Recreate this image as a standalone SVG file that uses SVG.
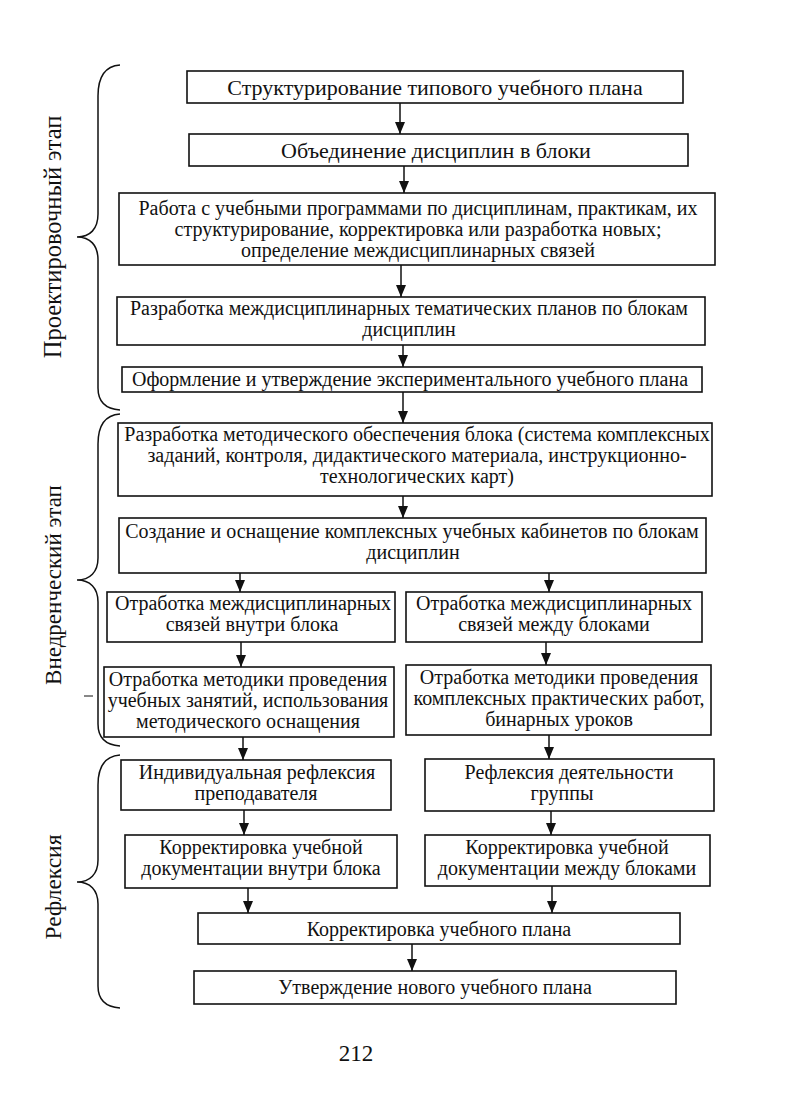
<svg xmlns="http://www.w3.org/2000/svg" width="794" height="1114" viewBox="0 0 794 1114">
<style>
.b{fill:#fff;stroke:#111;stroke-width:1.6}
.t{font-family:"Liberation Serif","Times New Roman",serif;font-size:20px;fill:#111;text-anchor:middle}
.tl{font-family:"Liberation Serif","Times New Roman",serif;font-size:22px;fill:#111;text-anchor:middle}
.lbl{font-family:"Liberation Serif","Times New Roman",serif;font-size:23px;fill:#111;text-anchor:middle}
.c{stroke:#111;stroke-width:1.5;fill:none}
.br{stroke:#111;stroke-width:1.5;fill:none}
</style>
<defs>
<marker id="ah" viewBox="0 0 12 10" refX="12" refY="5" markerWidth="12" markerHeight="10" orient="auto" markerUnits="userSpaceOnUse"><path d="M0,0 L12,5 L0,10 z" fill="#111"/></marker>
</defs>
<rect width="794" height="1114" fill="#fff"/>
<g id="braces">
<path class="br" d="M120,65 C106,66 98,76 98,96 L98,214 C98,229 90,237 77,237 C90,237 98,245 98,260 L98,388 C98,402 106,409 120,410"/>
<path class="br" d="M120,414 C106,415 98,425 98,444 L98,558 C98,572 90,580 77,580 C90,580 98,588 98,602 L98,724 C98,738 106,745 120,746"/>
<path class="br" d="M120,755 C106,756 98,766 98,785 L98,860 C98,874 90,882 77,882 C90,882 98,890 98,904 L98,986 C98,1000 106,1007 120,1008"/>
<line class="c" x1="84" y1="696" x2="93" y2="696" style="stroke-width:1"/>
</g>
<g id="labels">
<text class="lbl" transform="translate(61,237) rotate(-90)" style="font-size:24.5px">Проектировочный этап</text>
<text class="lbl" transform="translate(61,585) rotate(-90)">Внедренческий этап</text>
<text class="lbl" transform="translate(61,887) rotate(-90)" style="font-size:23.5px">Рефлексия</text>
</g>
<g id="connectors">
<line class="c" x1="400" y1="103" x2="400" y2="134" marker-end="url(#ah)"/>
<line class="c" x1="404" y1="166" x2="404" y2="193" marker-end="url(#ah)"/>
<line class="c" x1="401" y1="265" x2="401" y2="297" marker-end="url(#ah)"/>
<line class="c" x1="403" y1="345" x2="403" y2="367" marker-end="url(#ah)"/>
<line class="c" x1="403" y1="392" x2="403" y2="423" marker-end="url(#ah)"/>
<line class="c" x1="403" y1="496" x2="403" y2="518" marker-end="url(#ah)"/>
<line class="c" x1="240" y1="573" x2="240" y2="592" marker-end="url(#ah)"/>
<line class="c" x1="549" y1="573" x2="549" y2="592" marker-end="url(#ah)"/>
<line class="c" x1="241" y1="642" x2="241" y2="667" marker-end="url(#ah)"/>
<line class="c" x1="546" y1="642" x2="546" y2="665" marker-end="url(#ah)"/>
<line class="c" x1="243" y1="737" x2="243" y2="760" marker-end="url(#ah)"/>
<line class="c" x1="549" y1="735" x2="549" y2="759" marker-end="url(#ah)"/>
<line class="c" x1="244" y1="810" x2="244" y2="835" marker-end="url(#ah)"/>
<line class="c" x1="551" y1="811" x2="551" y2="835" marker-end="url(#ah)"/>
<line class="c" x1="248" y1="888" x2="248" y2="913" marker-end="url(#ah)"/>
<line class="c" x1="552" y1="886" x2="552" y2="913" marker-end="url(#ah)"/>
<line class="c" x1="412" y1="944" x2="412" y2="971" marker-end="url(#ah)"/>
</g>
<g id="n1"><rect class="b" x="187" y="71" width="496" height="32"/><text class="tl" x="435" y="95">Структурирование типового учебного плана</text></g>
<g id="n2"><rect class="b" x="189" y="134" width="499" height="32"/><text class="tl" x="436" y="158">Объединение дисциплин в блоки</text></g>
<g id="n3"><rect class="b" x="119" y="193" width="596" height="72"/><text class="t" x="418" y="215">Работа с учебными программами по дисциплинам, практикам, их</text><text class="t" x="418" y="236">структурирование, корректировка или разработка новых;</text><text class="t" x="418" y="257">определение междисциплинарных связей</text></g>
<g id="n4"><rect class="b" x="117" y="297" width="588" height="48"/><text class="t" x="409" y="315">Разработка междисциплинарных тематических планов по блокам</text><text class="t" x="409" y="336">дисциплин</text></g>
<g id="n5"><rect class="b" x="122" y="367" width="580" height="25"/><text class="t" x="410" y="386">Оформление и утверждение экспериментального учебного плана</text></g>
<g id="n6"><rect class="b" x="118" y="423" width="594" height="73"/><text class="t" x="417" y="441">Разработка методического обеспечения блока (система комплексных</text><text class="t" x="417" y="462">заданий, контроля, дидактического материала, инструкционно-</text><text class="t" x="417" y="483">технологических карт)</text></g>
<g id="n7"><rect class="b" x="119" y="518" width="587" height="55"/><text class="t" x="412" y="538">Создание и оснащение комплексных учебных кабинетов по блокам</text><text class="t" x="413" y="559">дисциплин</text></g>
<g id="n8"><rect class="b" x="107" y="592" width="288" height="50"/><text class="t" x="253" y="610">Отработка междисциплинарных</text><text class="t" x="252" y="631">связей внутри блока</text></g>
<g id="n9"><rect class="b" x="406" y="592" width="296" height="50"/><text class="t" x="554" y="610">Отработка междисциплинарных</text><text class="t" x="554" y="631">связей между блоками</text></g>
<g id="n10"><rect class="b" x="104" y="667" width="290" height="70"/><text class="t" x="248" y="686">Отработка методики проведения</text><text class="t" x="248" y="707">учебных занятий, использования</text><text class="t" x="248" y="728">методического оснащения</text></g>
<g id="n11"><rect class="b" x="406" y="665" width="305" height="70"/><text class="t" x="559" y="684">Отработка методики проведения</text><text class="t" x="559" y="705">комплексных практических работ,</text><text class="t" x="559" y="726">бинарных уроков</text></g>
<g id="n12"><rect class="b" x="121" y="760" width="270" height="50"/><text class="t" x="257" y="779">Индивидуальная рефлексия</text><text class="t" x="256" y="800">преподавателя</text></g>
<g id="n13"><rect class="b" x="425" y="759" width="289" height="52"/><text class="t" x="569" y="779">Рефлексия деятельности</text><text class="t" x="562" y="800">группы</text></g>
<g id="n14"><rect class="b" x="125" y="835" width="272" height="53"/><text class="t" x="261" y="854">Корректировка учебной</text><text class="t" x="261" y="875">документации внутри блока</text></g>
<g id="n15"><rect class="b" x="425" y="835" width="285" height="51"/><text class="t" x="567" y="854">Корректировка учебной</text><text class="t" x="567" y="875">документации между блоками</text></g>
<g id="n16"><rect class="b" x="198" y="913" width="482" height="31"/><text class="t" x="439" y="936">Корректировка учебного плана</text></g>
<g id="n17"><rect class="b" x="194" y="971" width="482" height="33"/><text class="t" x="435" y="994">Утверждение нового учебного плана</text></g>
<text class="lbl" x="356" y="1061">212</text>
</svg>
